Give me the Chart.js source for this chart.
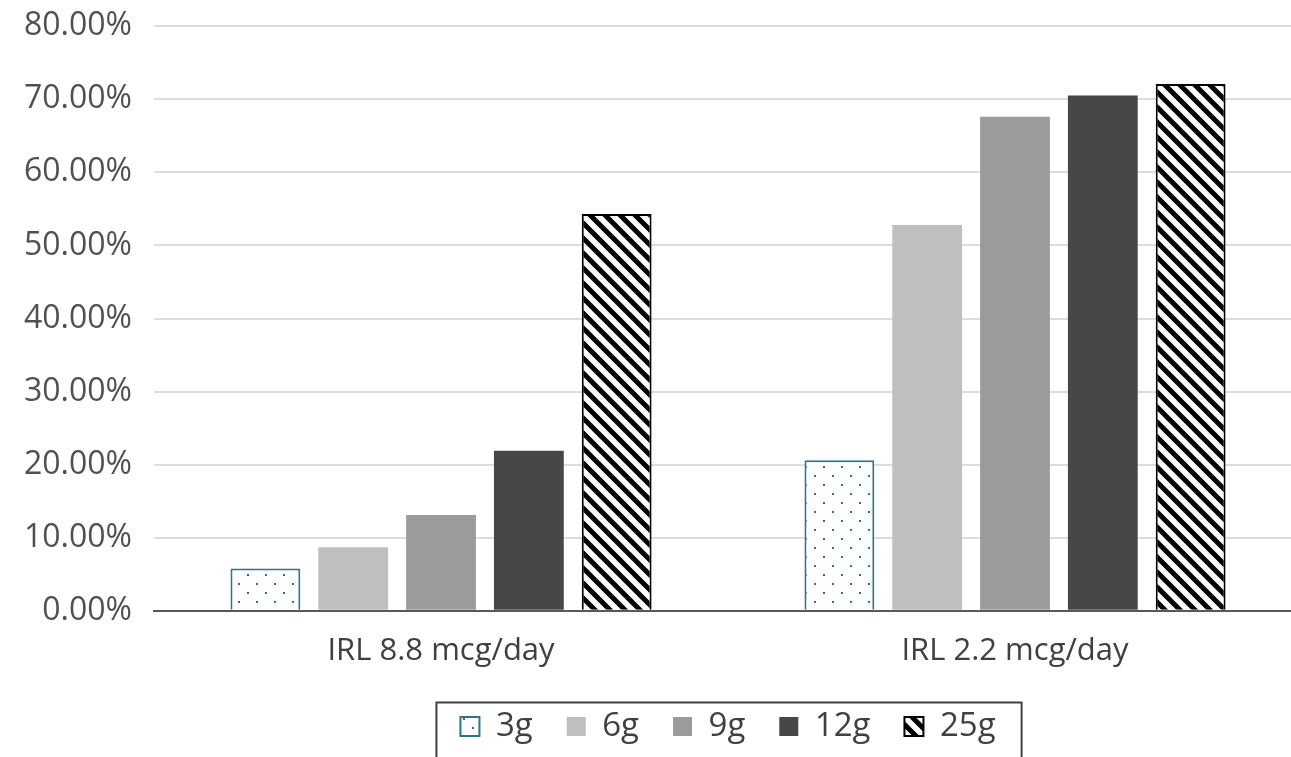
<!DOCTYPE html>
<html>
<head>
<meta charset="utf-8">
<script src="https://cdn.jsdelivr.net/npm/chart.js@4.4.0/dist/chart.umd.min.js"></script>
<style>
  html, body { margin: 0; padding: 0; background: #fff; overflow: hidden; }
  #wrap { position: absolute; left: 0; top: -15px; width: 1302px; height: 774px; }
</style>
</head>
<body>
<div id="wrap"><canvas id="chart"></canvas></div>
<script>
// chart values (percent)
const groups = ['IRL 8.8 mcg/day', 'IRL 2.2 mcg/day'];
const seriesNames = ['3g', '6g', '9g', '12g', '25g'];
const vals3g  = [5.8, 20.6];
const vals6g  = [8.7, 52.8];
const vals9g  = [13.1, 67.6];
const vals12g = [21.9, 70.5];
const vals25g = [54.3, 72.1];
const yTicks = [0, 10, 20, 30, 40, 50, 60, 70, 80];

// little pattern tiles for the two hatched series
function dotFill() {
  const c = document.createElement('canvas');
  c.width = 18; c.height = 18;
  const g = c.getContext('2d');
  g.fillStyle = '#fbfdfe';
  g.fillRect(0, 0, 18, 18);
  g.fillStyle = '#4d6670';
  g.fillRect(4, 4, 2, 2);
  g.fillRect(13, 13, 2, 2);
  return g.createPattern(c, 'repeat');
}

function stripeFill() {
  const s = 15;
  const c = document.createElement('canvas');
  c.width = s; c.height = s;
  const g = c.getContext('2d');
  g.fillStyle = '#fff';
  g.fillRect(0, 0, s, s);
  g.strokeStyle = '#000';
  g.lineWidth = 5;
  g.beginPath();
  g.moveTo(-2, -2); g.lineTo(s + 2, s + 2);
  g.moveTo(-s - 2, -2); g.lineTo(2, s + 2);
  g.moveTo(s - 2, -2); g.lineTo(2 * s + 2, s + 2);
  g.stroke();
  return g.createPattern(c, 'repeat');
}

// draw a frame round the legend
const legendFrame = {
  id: 'legendFrame',
  afterDraw(chart) {
    const boxes = chart.legend.legendHitBoxes;
    if (!boxes || !boxes.length) return;
    const first = boxes[0], last = boxes[boxes.length - 1];
    const top = first.top + first.height / 2 - 24;
    const ctx = chart.ctx;
    ctx.save();
    ctx.strokeStyle = '#404040';
    ctx.lineWidth = 2;
    ctx.strokeRect(first.left - 24, top, (last.left + last.width + 26) - (first.left - 24), 90);
    ctx.restore();
  }
};

const fonts = "'Open Sans', 'Noto Sans', sans-serif";
const colors = [dotFill(), '#bfbfbf', '#9a9b9d', '#474749', stripeFill()];
const borders = ['#2f7588', '#bfbfbf', '#9a9b9d', '#474749', '#000'];
const borderW = [2, 0, 0, 0, 2];
const data = [vals3g, vals6g, vals9g, vals12g, vals25g];

new Chart(document.getElementById('chart'), {
  type: 'bar',
  data: {
    labels: groups,
    datasets: seriesNames.map((n, i) => ({
      label: n,
      data: data[i],
      backgroundColor: colors[i],
      borderColor: borders[i],
      borderWidth: borderW[i],
      categoryPercentage: 0.765,
      barPercentage: 0.795
    }))
  },
  options: {
    responsive: true,
    maintainAspectRatio: false,
    animation: false,
    layout: { padding: { left: 2, right: 0, top: 0, bottom: 6 } },
    plugins: {
      tooltip: { enabled: false },
      legend: {
        position: 'bottom',
        fullSize: false,
        labels: {
          font: { family: fonts, size: 33 },
          color: '#404040',
          boxWidth: 19,
          boxHeight: 19,
          padding: 34
        }
      }
    },
    scales: {
      x: {
        afterFit: s => { s.height -= 16; },
        grid: { display: false, drawTicks: false },
        border: { color: '#595959', width: 2 },
        ticks: { font: { family: fonts, size: 31 }, color: '#404040', padding: 22 }
      },
      y: {
        min: 0,
        max: 80,
        afterBuildTicks: s => { s.ticks = yTicks.map(v => ({ value: v })); },
        grid: { color: '#dcdcdc', lineWidth: 2, drawTicks: false },
        border: { display: false },
        ticks: {
          font: { family: fonts, size: 32 },
          color: '#505050',
          padding: 22,
          callback: v => v.toFixed(2) + '%'
        }
      }
    }
  },
  plugins: [legendFrame]
});
</script>
</body>
</html>
